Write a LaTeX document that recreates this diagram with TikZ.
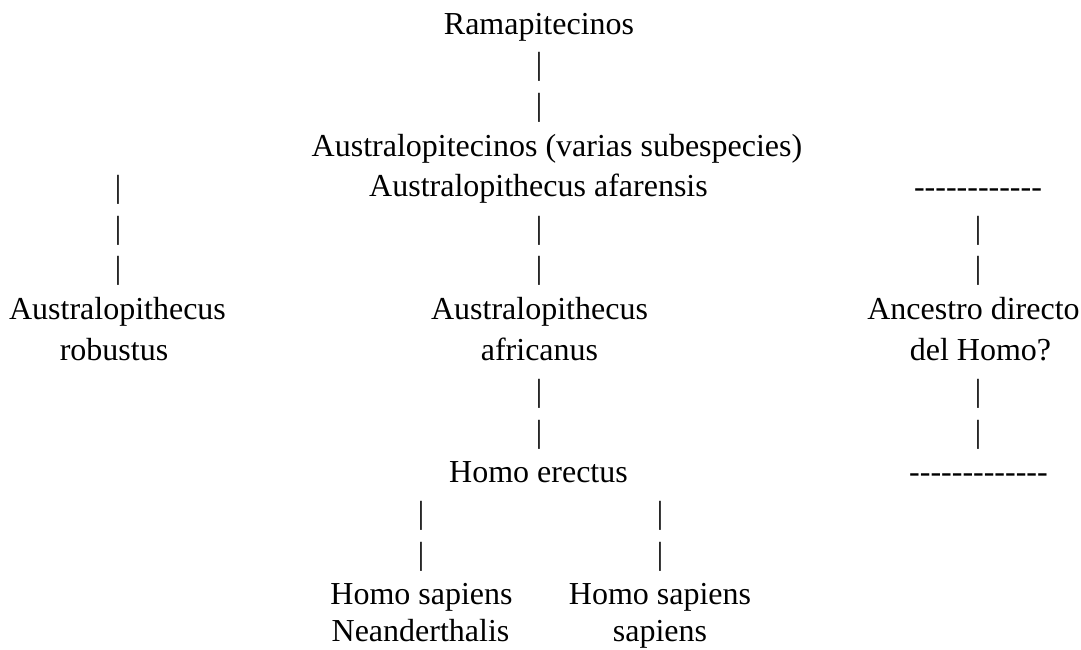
\documentclass[tikz,border=0pt]{standalone}
\usepackage{fontspec}
\setmainfont{Liberation Serif}
\begin{document}
\begin{tikzpicture}[x=1pt,y=-1pt,
  txt/.style={anchor=base,inner sep=0pt,font=\fontsize{32}{40}\selectfont}]
\useasboundingbox (0,0) rectangle (1081,649);
% centre column
\node[txt] (rama) at (539,34) {Ramapitecinos};
\node[txt] (b1) at (539,74.8) {|};
\node[txt] (b2) at (539,115.6) {|};
\node[txt] (austro) at (557,156.4) {Australopitecinos (varias subespecies)};
\node[txt] (afar) at (538.5,196.5) {Australopithecus afarensis};
\node[txt] (b3) at (539,238) {|};
\node[txt] (b4) at (539,278.8) {|};
\node[txt] (afri1) at (539.5,319.6) {Australopithecus};
\node[txt] (afri2) at (539.5,360.4) {africanus};
\node[txt] (b5) at (539,401.2) {|};
\node[txt] (b6) at (539,442) {|};
\node[txt] (erect) at (538.5,482.8) {Homo erectus};
% left column
\node[txt] (l1) at (118,197.2) {|};
\node[txt] (l2) at (118,238) {|};
\node[txt] (l3) at (118,278.8) {|};
\node[txt] (rob1) at (117.5,319.6) {Australopithecus};
\node[txt] (rob2) at (114,360.4) {robustus};
% right column
\node[txt] (d1) at (978,197.2) {-{}-{}-{}-{}-{}-{}-{}-{}-{}-{}-{}-};
\node[txt] (r1) at (978,238) {|};
\node[txt] (r2) at (978,278.8) {|};
\node[txt] (anc1) at (973.5,319.6) {Ancestro directo};
\node[txt] (anc2) at (980.5,360.4) {del Homo?};
\node[txt] (r3) at (978,401.2) {|};
\node[txt] (r4) at (978,442) {|};
\node[txt] (d2) at (978.5,482.8) {-{}-{}-{}-{}-{}-{}-{}-{}-{}-{}-{}-{}-};
% bottom
\node[txt] (n1) at (421,523.6) {|};
\node[txt] (n2) at (421,564.4) {|};
\node[txt] (nea1) at (421.5,604) {Homo sapiens};
\node[txt] (nea2) at (420.5,641) {Neanderthalis};
\node[txt] (s1) at (660,523.6) {|};
\node[txt] (s2) at (660,564.4) {|};
\node[txt] (sap1) at (660,604) {Homo sapiens};
\node[txt] (sap2) at (660,641) {sapiens};
\end{tikzpicture}
\end{document}
